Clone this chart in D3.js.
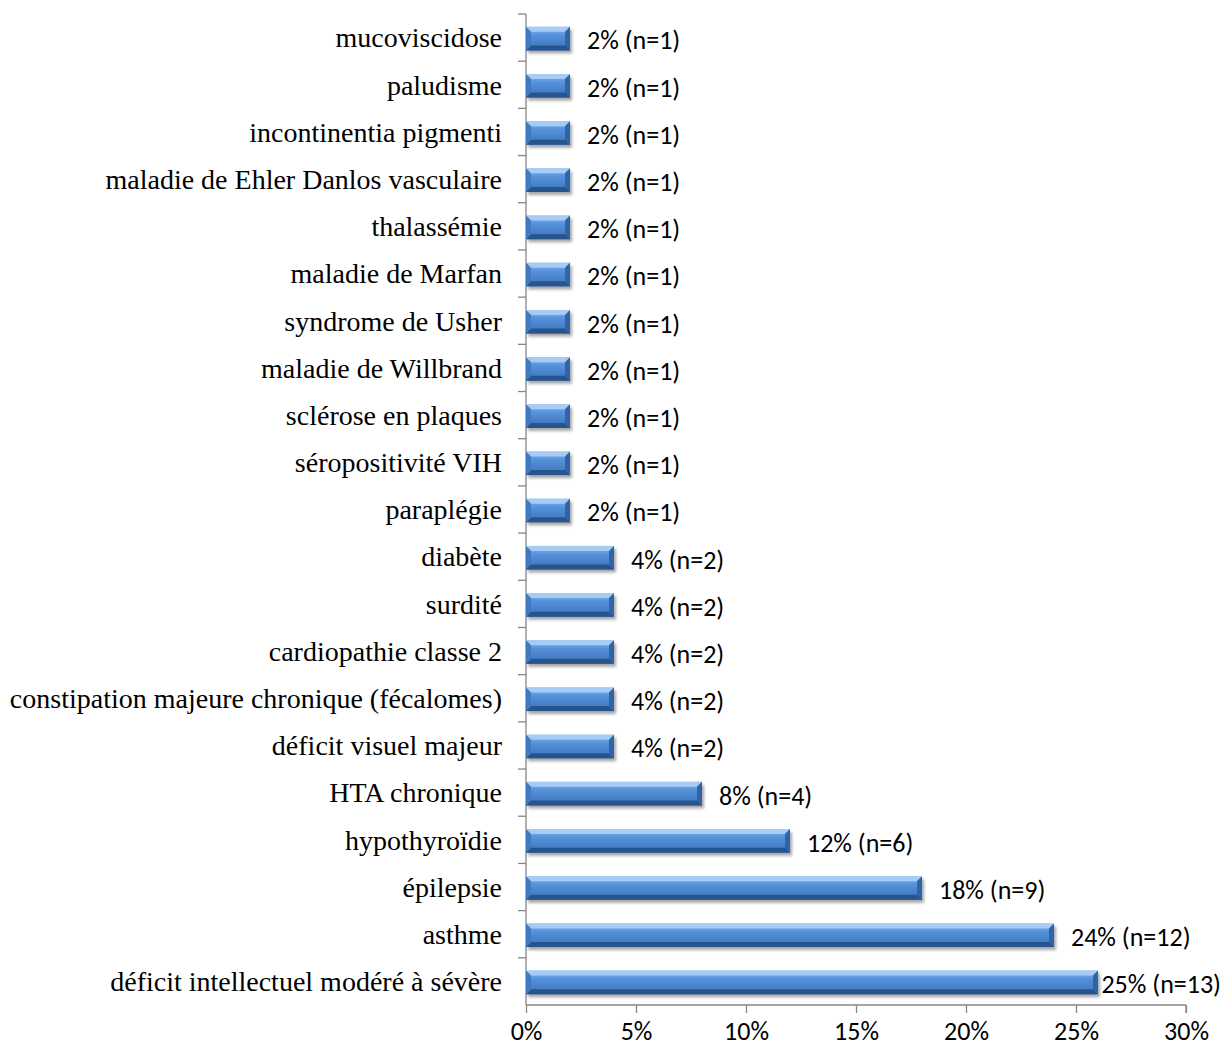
<!DOCTYPE html>
<meta charset="UTF-8">
<style>
    body { margin: 0; background: #fff; }
    .cat { font: 28px "Liberation Serif", "Times New Roman", serif; fill: #000; }
    .val { font: 26px Carlito, Calibri, "Open Sans", sans-serif; fill: #000; }
    .tick text { font: 26px Carlito, Calibri, "Open Sans", sans-serif; fill: #000; }
    .axis path, .axis line { stroke: #868686; stroke-width: 1.3px; }
</style>
<body>
<script src="https://d3js.org/d3.v7.min.js"></script>
<script>

// categories from top to bottom
var categories = [
  "mucoviscidose", "paludisme", "incontinentia pigmenti",
  "maladie de Ehler Danlos vasculaire", "thalassémie", "maladie de Marfan",
  "syndrome de Usher", "maladie de Willbrand", "sclérose en plaques",
  "séropositivité VIH", "paraplégie", "diabète", "surdité",
  "cardiopathie classe 2", "constipation majeure chronique (fécalomes)",
  "déficit visuel majeur", "HTA chronique", "hypothyroïdie", "épilepsie",
  "asthme", "déficit intellectuel modéré à sévère"
];
var values = [0.02, 0.02, 0.02, 0.02, 0.02, 0.02, 0.02, 0.02, 0.02, 0.02, 0.02,
              0.04, 0.04, 0.04, 0.04, 0.04, 0.08, 0.12, 0.18, 0.24, 0.26];
var labels = ["2% (n=1)", "2% (n=1)", "2% (n=1)", "2% (n=1)", "2% (n=1)", "2% (n=1)",
              "2% (n=1)", "2% (n=1)", "2% (n=1)", "2% (n=1)", "2% (n=1)",
              "4% (n=2)", "4% (n=2)", "4% (n=2)", "4% (n=2)", "4% (n=2)",
              "8% (n=4)", "12% (n=6)", "18% (n=9)", "24% (n=12)", "25% (n=13)"];
var xTicks = [0, 0.05, 0.10, 0.15, 0.20, 0.25, 0.30];

var W = 1224, H = 1048;
var mLeft = 526, mRight = 1186, mTop = 14, mBottom = 1005;

var svg = d3.select("body").append("svg")
    .attr("width", W).attr("height", H);

var defs = svg.append("defs");
var grad = defs.append("linearGradient").attr("id", "face")
    .attr("x1", 0).attr("y1", 0).attr("x2", 0).attr("y2", 1);
grad.append("stop").attr("offset", "0%").attr("stop-color", "#8ab8ee");
grad.append("stop").attr("offset", "35%").attr("stop-color", "#5592da");
grad.append("stop").attr("offset", "100%").attr("stop-color", "#3a72b8");
var blur = defs.append("filter").attr("id", "shadow")
    .attr("x", "-5%").attr("y", "-30%").attr("width", "115%").attr("height", "180%");
blur.append("feGaussianBlur").attr("stdDeviation", 1.5);

var x = d3.scaleLinear().domain([0, 0.30]).range([mLeft, mRight]);
var y = d3.scaleBand().domain(categories).range([mTop, mBottom]).paddingInner(0.5).paddingOuter(0.25);
var yb = d3.scaleBand().domain(categories).range([mTop, mBottom]);

// y axis line with ticks at category boundaries (left side)
var gy = svg.append("g").attr("class", "axis");
gy.append("line").attr("x1", mLeft).attr("x2", mLeft).attr("y1", mTop).attr("y2", mBottom);
gy.selectAll("line.t").data(categories).enter().append("line").attr("class", "t")
    .attr("x1", mLeft - 8).attr("x2", mLeft)
    .attr("y1", function(d) { return yb(d); })
    .attr("y2", function(d) { return yb(d); });

// category labels
svg.selectAll("text.cat").data(categories).enter().append("text")
    .attr("class", "cat")
    .attr("x", mLeft - 24)
    .attr("y", function(d) { return yb(d) + yb.bandwidth() / 2; })
    .attr("dy", "0.35em")
    .attr("text-anchor", "end")
    .text(function(d) { return d; });

// x axis
var gx = svg.append("g").attr("class", "axis")
    .attr("transform", "translate(0," + mBottom + ")")
    .call(d3.axisBottom(x).tickValues(xTicks).tickSize(8).tickPadding(9)
        .tickFormat(d3.format(".0%")));
gx.select(".domain").attr("d", "M" + mLeft + ",0H" + mRight + "M" + mRight + ",0V8");

// bars with bevel
var b = 5;
var bars = svg.selectAll("g.bar").data(categories).enter().append("g")
    .attr("class", "bar")
    .attr("transform", function(d) { return "translate(" + mLeft + "," + (y(d) + 1) + ")"; });

bars.each(function(d, i) {
  var g = d3.select(this);
  var w = x(values[i]) - mLeft, h = y.bandwidth();
  g.append("rect").attr("x", 2).attr("y", 3).attr("width", w).attr("height", h)
      .attr("fill", "#000").attr("opacity", 0.35).attr("filter", "url(#shadow)");
  g.append("rect").attr("width", w).attr("height", h).attr("fill", "url(#face)");
  g.append("polygon").attr("points", [[0,0],[w,0],[w-b,b],[b,b]].join(" "))
      .attr("fill", "#a6cbf5");
  g.append("polygon").attr("points", [[0,h],[w,h],[w-b,h-b],[b,h-b]].join(" "))
      .attr("fill", "#28548e");
  g.append("polygon").attr("points", [[0,0],[b,b],[b,h-b],[0,h]].join(" "))
      .attr("fill", "#3f7ac2");
  g.append("polygon").attr("points", [[w,0],[w-b,b],[w-b,h-b],[w,h]].join(" "))
      .attr("fill", "#2f64a8");
});

// value labels
svg.selectAll("text.val").data(categories).enter().append("text")
    .attr("class", "val")
    .attr("y", function(d) { return yb(d) + yb.bandwidth() / 2 + 2; })
    .attr("dy", "0.38em")
    .text(function(d, i) { return labels[i]; })
    .attr("x", function(d, i) {
      var tw = this.getComputedTextLength();
      return Math.min(x(values[i]) + 17, W - 3 - tw);
    });

</script>
</body>
